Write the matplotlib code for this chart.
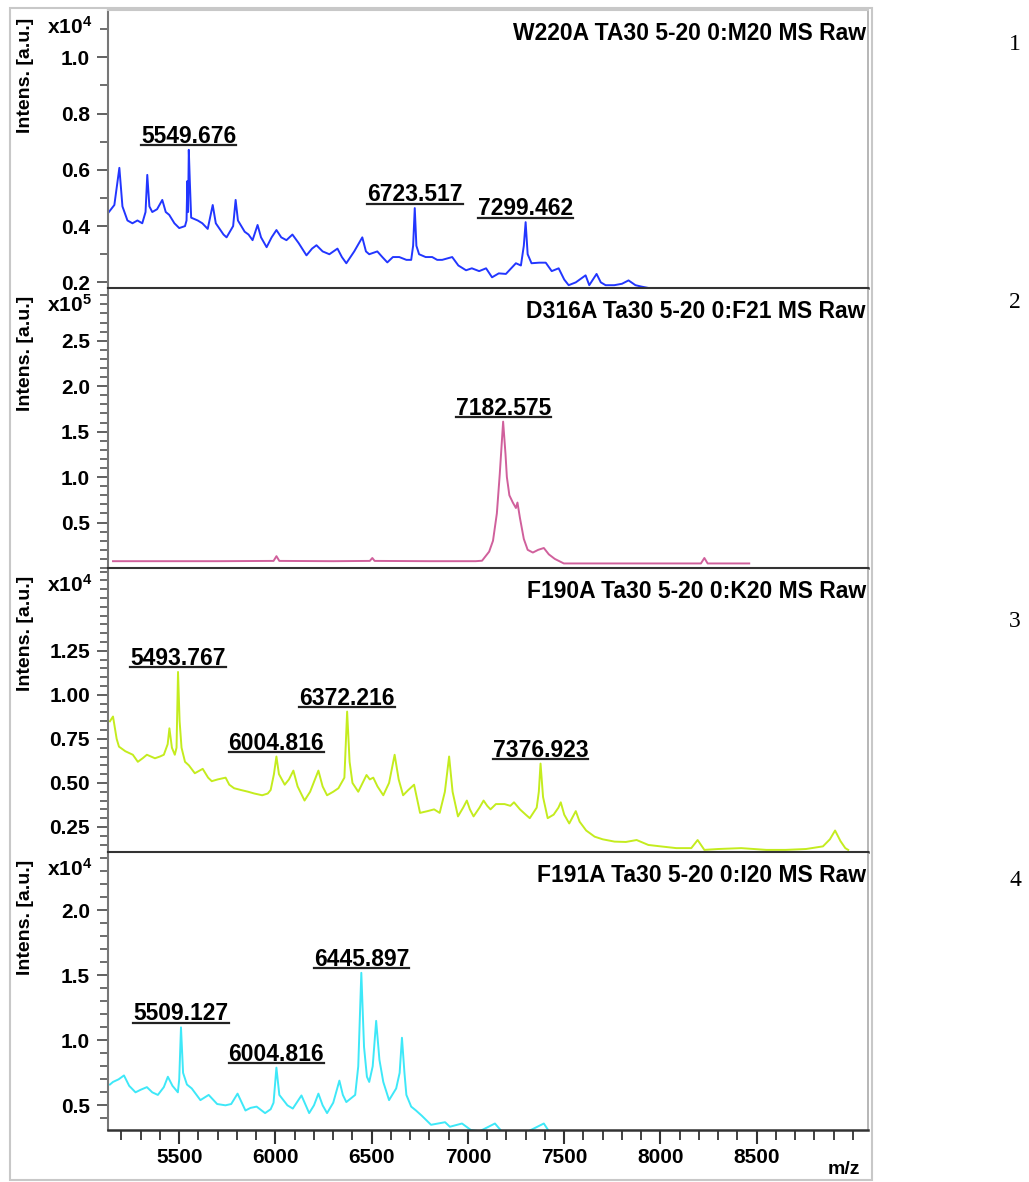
import matplotlib
matplotlib.use('Agg')
import matplotlib.pyplot as plt
from matplotlib.lines import Line2D
from matplotlib.patches import Rectangle
from matplotlib.ticker import MultipleLocator, FormatStrFormatter

plt.rcParams['font.family'] = ['Liberation Sans', 'DejaVu Sans']
plt.rcParams['font.weight'] = 'bold'
plt.rcParams['mathtext.fontset'] = 'custom'
plt.rcParams['mathtext.bf'] = 'Liberation Sans:bold'
plt.rcParams['mathtext.rm'] = 'Liberation Sans:bold'
plt.rcParams['mathtext.default'] = 'bf'

### spectra (m/z, intensity in units of the panel exponent)
mz_1 = [5130, 5163, 5189, 5205, 5231, 5257, 5283, 5308, 5325, 5334, 5345, 5360, 5385, 5412,
        5430, 5448, 5475, 5500, 5530, 5538, 5542, 5546, 5549.676, 5555, 5562, 5596, 5620, 5648,
        5674, 5690, 5710, 5730, 5746, 5780, 5793, 5805, 5840, 5860, 5881, 5907, 5925, 5954,
        5980, 6005, 6030, 6057, 6088, 6120, 6161, 6190, 6213, 6245, 6280, 6322, 6345, 6368,
        6409, 6451, 6470, 6487, 6529, 6555, 6581, 6610, 6643, 6680, 6705, 6715, 6723.517, 6732,
        6746, 6780, 6814, 6840, 6866, 6918, 6950, 6990, 7020, 7058, 7094, 7125, 7160, 7197,
        7249, 7275, 7290, 7299.462, 7310, 7330, 7370, 7404, 7435, 7471, 7500, 7523, 7560, 7611,
        7630, 7668, 7690, 7715, 7760, 7800, 7834, 7870, 7901, 7938, 7960]
int_1 = [0.446, 0.475, 0.607, 0.47, 0.42, 0.41, 0.42, 0.41, 0.45, 0.582, 0.47, 0.45, 0.46, 0.493,
         0.45, 0.44, 0.41, 0.393, 0.40, 0.42, 0.56, 0.45, 0.671, 0.56, 0.43, 0.42, 0.41, 0.39,
         0.475, 0.41, 0.39, 0.37, 0.36, 0.40, 0.493, 0.42, 0.38, 0.37, 0.35, 0.404, 0.36, 0.325,
         0.36, 0.386, 0.36, 0.35, 0.37, 0.34, 0.296, 0.32, 0.332, 0.31, 0.30, 0.32, 0.29, 0.268,
         0.31, 0.36, 0.31, 0.30, 0.31, 0.29, 0.271, 0.29, 0.29, 0.28, 0.28, 0.33, 0.464, 0.33,
         0.30, 0.29, 0.29, 0.28, 0.28, 0.29, 0.26, 0.243, 0.25, 0.24, 0.25, 0.218, 0.232, 0.23,
         0.268, 0.26, 0.33, 0.414, 0.30, 0.268, 0.27, 0.27, 0.24, 0.25, 0.21, 0.19, 0.20, 0.225,
         0.19, 0.23, 0.20, 0.19, 0.19, 0.195, 0.207, 0.19, 0.185, 0.18, 0.17]

mz_2 = [5156, 5400, 5700, 5990, 6005, 6020, 6300, 6490, 6503, 6515, 6800, 7040, 7073, 7110,
        7130, 7150, 7165, 7182.575, 7195, 7202, 7215, 7233, 7249, 7257, 7270, 7290, 7310, 7337,
        7365, 7394, 7420, 7451, 7498, 7700, 8000, 8210, 8228, 8245, 8461]
int_2 = [0.075, 0.075, 0.075, 0.078, 0.13, 0.078, 0.075, 0.078, 0.11, 0.078, 0.075, 0.075, 0.08, 0.18,
         0.30, 0.60, 1.03, 1.61, 1.25, 1.0, 0.80, 0.72, 0.66, 0.72, 0.55, 0.32, 0.20, 0.17,
         0.20, 0.22, 0.15, 0.10, 0.05, 0.05, 0.05, 0.05, 0.11, 0.05, 0.05]

mz_3 = [5140, 5156, 5175, 5187, 5220, 5259, 5285, 5310, 5332, 5374, 5400, 5420, 5440, 5449,
        5462, 5477, 5486, 5493.767, 5502, 5512, 5530, 5550, 5581, 5622, 5650, 5669, 5700, 5741,
        5760, 5785, 5820, 5858, 5890, 5931, 5960, 5975, 5992, 6004.816, 6018, 6048, 6070, 6093,
        6115, 6151, 6180, 6205, 6223, 6245, 6268, 6300, 6327, 6358, 6372.216, 6385, 6400, 6430,
        6473, 6490, 6508, 6530, 6560, 6590, 6619, 6640, 6663, 6690, 6720, 6751, 6790, 6824,
        6853, 6880, 6902, 6920, 6948, 6975, 6994, 7010, 7029, 7060, 7081, 7100, 7117, 7145,
        7190, 7220, 7239, 7270, 7300, 7321, 7357, 7368, 7376.923, 7390, 7414, 7445, 7470, 7482,
        7500, 7526, 7560, 7580, 7614, 7658, 7700, 7761, 7820, 7876, 7937, 8000, 8082, 8160,
        8193, 8228, 8300, 8419, 8550, 8650, 8756, 8844, 8880, 8907, 8935, 8960, 8975]
int_3 = [0.85, 0.877, 0.75, 0.706, 0.68, 0.66, 0.62, 0.64, 0.66, 0.64, 0.65, 0.66, 0.72, 0.81,
         0.70, 0.66, 0.70, 1.13, 0.85, 0.70, 0.62, 0.60, 0.555, 0.58, 0.53, 0.51, 0.52, 0.53,
         0.49, 0.47, 0.46, 0.45, 0.44, 0.43, 0.44, 0.46, 0.55, 0.65, 0.55, 0.49, 0.52, 0.57,
         0.48, 0.40, 0.45, 0.52, 0.57, 0.48, 0.43, 0.45, 0.47, 0.53, 0.905, 0.62, 0.50, 0.45,
         0.545, 0.52, 0.53, 0.48, 0.43, 0.50, 0.66, 0.52, 0.43, 0.46, 0.49, 0.33, 0.34, 0.35,
         0.33, 0.45, 0.65, 0.45, 0.31, 0.36, 0.40, 0.35, 0.31, 0.36, 0.40, 0.37, 0.35, 0.38,
         0.38, 0.37, 0.39, 0.35, 0.32, 0.30, 0.36, 0.45, 0.61, 0.42, 0.30, 0.32, 0.36, 0.39,
         0.32, 0.27, 0.34, 0.28, 0.23, 0.195, 0.18, 0.167, 0.165, 0.176, 0.148, 0.14, 0.13, 0.13,
         0.176, 0.12, 0.125, 0.13, 0.12, 0.12, 0.125, 0.14, 0.18, 0.23, 0.17, 0.13, 0.12]

mz_4 = [5140, 5156, 5185, 5213, 5240, 5273, 5300, 5332, 5360, 5389, 5420, 5441, 5465, 5493,
        5500, 5509.127, 5520, 5540, 5565, 5610, 5653, 5697, 5740, 5770, 5803, 5844, 5870, 5902,
        5946, 5975, 5990, 6004.816, 6020, 6062, 6090, 6135, 6175, 6200, 6223, 6245, 6268, 6300,
        6332, 6350, 6368, 6414, 6430, 6445.897, 6460, 6475, 6487, 6505, 6523, 6540, 6560, 6590,
        6627, 6645, 6657, 6670, 6680, 6705, 6730, 6760, 6808, 6881, 6906, 6969, 7015, 7060,
        7140, 7175, 7300, 7394, 7425, 7500]
int_4 = [0.66, 0.68, 0.70, 0.73, 0.65, 0.60, 0.62, 0.64, 0.60, 0.58, 0.64, 0.72, 0.65, 0.60,
         0.70, 1.10, 0.75, 0.66, 0.63, 0.54, 0.58, 0.51, 0.50, 0.51, 0.59, 0.46, 0.48, 0.49,
         0.44, 0.47, 0.52, 0.79, 0.58, 0.50, 0.475, 0.576, 0.44, 0.50, 0.59, 0.50, 0.44, 0.52,
         0.69, 0.58, 0.525, 0.58, 0.80, 1.52, 0.95, 0.72, 0.68, 0.80, 1.15, 0.85, 0.68, 0.54,
         0.63, 0.75, 1.02, 0.75, 0.58, 0.49, 0.46, 0.42, 0.35, 0.37, 0.335, 0.36, 0.31, 0.30,
         0.36, 0.30, 0.29, 0.36, 0.29, 0.28]

titles = ['W220A TA30 5-20 0:M20 MS Raw', 'D316A Ta30 5-20 0:F21 MS Raw',
          'F190A Ta30 5-20 0:K20 MS Raw', 'F191A Ta30 5-20 0:I20 MS Raw']
exponents = [4, 5, 4, 4]
peak_labels = [[5549.676, 6723.517, 7299.462], [7182.575],
               [5493.767, 6004.816, 6372.216, 7376.923], [5509.127, 6004.816, 6445.897]]
yticks = [[0.2, 0.4, 0.6, 0.8, 1.0], [0.5, 1.0, 1.5, 2.0, 2.5],
          [0.25, 0.50, 0.75, 1.00, 1.25], [0.5, 1.0, 1.5, 2.0]]
xticks = [5500, 6000, 6500, 7000, 7500, 8000, 8500]
panel_names = ['1', '2', '3', '4']

spectra = [(mz_1, int_1), (mz_2, int_2), (mz_3, int_3), (mz_4, int_4)]
colors = ['#2236ff', '#d0609c', '#c4ec1e', '#3ee8f8']
ylims = [(0.18, 1.168), (0.0, 3.08), (0.108, 1.72), (0.31, 2.45)]
minors = [0.1, 0.1, 0.05, 0.1]
fmts = ['%.1f', '%.1f', '%.2f', '%.1f']

W_PX, H_PX = 1029, 1182
rows = [(10, 288), (288, 568), (568, 852), (852, 1130)]
left_px, right_px = 108, 868

fig = plt.figure(figsize=(W_PX / 100, H_PX / 100), dpi=100)

# light grey outer frame
fig.add_artist(Rectangle((10 / W_PX, 1 - 1180 / H_PX), (872 - 10) / W_PX, (1180 - 8) / H_PX,
                         transform=fig.transFigure, fill=False, edgecolor='#c8c8c8', lw=1.5))

label_texts = []
for i, (top, bot) in enumerate(rows):
    h = bot - top
    ax = fig.add_axes([left_px / W_PX, 1 - bot / H_PX, (right_px - left_px) / W_PX, h / H_PX])
    mz, inten = spectra[i]
    ax.plot(mz, inten, color=colors[i], lw=1.4)
    ax.set_xlim(5130, 9078)
    ax.set_ylim(*ylims[i])

    ax.set_yticks(yticks[i])
    ax.yaxis.set_major_formatter(FormatStrFormatter(fmts[i]))
    ax.yaxis.set_minor_locator(MultipleLocator(minors[i]))
    ax.tick_params(axis='y', which='major', direction='out', length=8, width=1.3,
                   color='#555555', labelsize=15, pad=5)
    ax.tick_params(axis='y', which='minor', direction='out', length=6, width=1.2, color='#555555')

    if i < 3:
        ax.tick_params(axis='x', which='both', bottom=False, labelbottom=False)
    else:
        ax.set_xticks(xticks)
        ax.xaxis.set_minor_locator(MultipleLocator(100))
        ax.tick_params(axis='x', which='major', direction='out', length=10, width=1.5,
                       color='#333333', labelsize=15, pad=3)
        ax.tick_params(axis='x', which='minor', direction='out', length=7, width=1.3, color='#333333')

    ax.spines['left'].set_color('#777777')
    ax.spines['left'].set_linewidth(1.5)
    ax.spines['right'].set_color('#aaaaaa')
    ax.spines['right'].set_linewidth(1.2)
    ax.spines['bottom'].set_color('#333333')
    ax.spines['bottom'].set_linewidth(1.8)
    ax.spines['top'].set_color('#c8c8c8' if i == 0 else '#333333')
    ax.spines['top'].set_linewidth(1.5)

    ax.text(0.997, 1 - 23 / h, titles[i], transform=ax.transAxes, ha='right', va='center',
            fontsize=16.5, fontweight='bold')
    ax.text(-16 / 760, 1 - 17 / h, r'x10$^{%d}$' % exponents[i], transform=ax.transAxes,
            ha='right', va='center', fontsize=15)
    ax.text(-83 / 760, 1 - 8 / h, 'Intens. [a.u.]', transform=ax.transAxes, rotation=90,
            ha='center', va='top', fontsize=14)

    for p in peak_labels[i]:
        k = mz.index(p)
        t = ax.annotate('%.3f' % p, xy=(p, inten[k]), xytext=(0, 2), textcoords='offset pixels',
                        ha='center', va='bottom', fontsize=16.5, fontweight='bold')
        label_texts.append(t)

    fig.text(1015 / W_PX, 1 - (45 + [0, 258, 577, 835][i]) / H_PX, panel_names[i],
             ha='center', va='center', fontsize=17, fontweight='normal',
             family=['Liberation Serif', 'DejaVu Serif'])

fig.text(844 / W_PX, 1 - 1170 / H_PX, 'm/z', ha='center', va='center', fontsize=14,
         fontweight='bold')

### underline the peak labels
fig.canvas.draw()
renderer = fig.canvas.get_renderer()
inv = fig.transFigure.inverted()
for t in label_texts:
    bb = t.get_window_extent(renderer)
    (x0, y0), (x1, _) = inv.transform([(bb.x0, bb.y0 + 2.5), (bb.x1, bb.y0 + 2.5)])
    fig.add_artist(Line2D([x0, x1], [y0, y0], transform=fig.transFigure, color='#222222', lw=1.6))

fig.savefig('out.png', dpi=100)
